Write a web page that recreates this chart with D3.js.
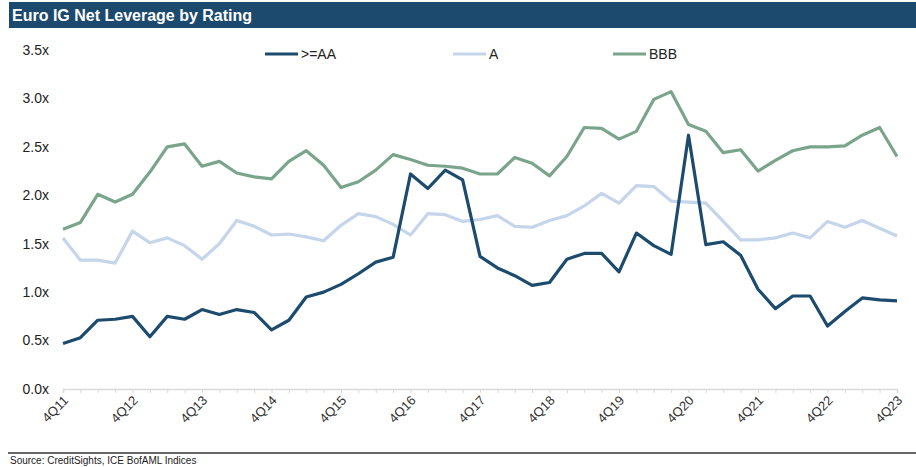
<!DOCTYPE html>
<html lang="en">
<head>
<meta charset="UTF-8">
<title>Euro IG Net Leverage by Rating</title>
<script src="https://d3js.org/d3.v7.min.js"></script>
<style>
  body { margin: 0; background: #fff; }
  svg { display: block; font-family: "Liberation Sans", Arial, sans-serif; }
</style>
</head>
<body>
<script>
// quarters 4Q11 .. 4Q23
const quarters = [];
for (let y = 11; y <= 23; y++) {
  ["1Q", "2Q", "3Q", "4Q"].forEach(q => {
    if (y === 11 && q !== "4Q") return;
    quarters.push(q + y);
  });
}

const aaPlus = [0.47, 0.53, 0.71, 0.72, 0.75, 0.54, 0.75, 0.72, 0.82, 0.77, 0.82, 0.79, 0.61, 0.71, 0.95, 1.00,
  1.08, 1.19, 1.31, 1.36, 2.22, 2.07, 2.26, 2.16, 1.37, 1.25, 1.17, 1.07, 1.10, 1.34, 1.40, 1.40,
  1.21, 1.61, 1.48, 1.39, 2.62, 1.49, 1.52, 1.38, 1.03, 0.83, 0.96, 0.96, 0.65, 0.80, 0.94, 0.92, 0.91];

const ratingA = [1.56, 1.33, 1.33, 1.30, 1.63, 1.51, 1.56, 1.48, 1.34, 1.50, 1.74, 1.68, 1.59, 1.60, 1.57, 1.53,
  1.69, 1.81, 1.78, 1.70, 1.59, 1.81, 1.80, 1.73, 1.75, 1.79, 1.68, 1.67, 1.74, 1.79, 1.89, 2.02,
  1.92, 2.10, 2.09, 1.94, 1.93, 1.92, 1.73, 1.54, 1.54, 1.56, 1.61, 1.56, 1.73, 1.67, 1.74, 1.66, 1.58];

const ratingBBB = [1.65, 1.72, 2.01, 1.93, 2.01, 2.24, 2.50, 2.53, 2.30, 2.35, 2.23, 2.19, 2.17, 2.35, 2.46, 2.31,
  2.08, 2.14, 2.26, 2.42, 2.37, 2.31, 2.30, 2.28, 2.22, 2.22, 2.39, 2.33, 2.20, 2.40, 2.70, 2.69,
  2.58, 2.66, 2.99, 3.07, 2.73, 2.66, 2.44, 2.47, 2.25, 2.36, 2.46, 2.50, 2.50, 2.51, 2.62, 2.70, 2.40];

const yTicks = [0, 0.5, 1, 1.5, 2, 2.5, 3, 3.5];

const series = [
  { name: ">=AA", values: aaPlus, color: "#1d4b6e" },
  { name: "A", values: ratingA, color: "#c5d5ea" },
  { name: "BBB", values: ratingBBB, color: "#7aa58c" }
];

const width = 916, height = 467;
const svg = d3.select("body").append("svg")
  .attr("width", width)
  .attr("height", height);

// title bar
svg.append("rect")
  .attr("x", 9).attr("y", 2)
  .attr("width", width - 9).attr("height", 26)
  .attr("fill", "#1c4a6e");
svg.append("text")
  .attr("x", 12).attr("y", 21)
  .attr("fill", "#fff")
  .attr("font-size", 16).attr("font-weight", "bold")
  .text("Euro IG Net Leverage by Rating");

const x = d3.scaleLinear()
  .domain([0, quarters.length - 1])
  .range([63, 897]);
const y = d3.scaleLinear()
  .domain([0, 3.5])
  .range([389, 50]);

// y labels
svg.append("g")
  .selectAll("text")
  .data(yTicks)
  .join("text")
  .attr("x", 49)
  .attr("y", d => y(d))
  .attr("dy", "0.35em")
  .attr("text-anchor", "end")
  .attr("font-size", 14)
  .attr("fill", "#222")
  .text(d => d.toFixed(1) + "x");

// x axis
const xAxis = d3.axisBottom(x)
  .tickValues(d3.range(quarters.length))
  .tickSize(4)
  .tickFormat("");
const gx = svg.append("g")
  .attr("transform", `translate(0,${y(0)})`)
  .call(xAxis);
gx.select(".domain").attr("stroke", "#d9d9d9").attr("stroke-width", 1.5);
gx.selectAll(".tick line").attr("stroke", "#d9d9d9");

svg.append("g")
  .selectAll("text")
  .data(quarters.map((q, i) => ({ q, i })).filter(d => d.i % 4 === 0))
  .join("text")
  .attr("transform", d => `translate(${x(d.i) + 3},${y(0) + 9}) rotate(-45)`)
  .attr("text-anchor", "end")
  .attr("dy", "0.35em")
  .attr("font-size", 13)
  .attr("fill", "#333")
  .text(d => d.q);

// lines
const line = d3.line()
  .x((d, i) => x(i))
  .y(d => y(d));

// draw A first, then BBB, then >=AA on top
[series[1], series[2], series[0]].forEach(s => {
  svg.append("path")
    .datum(s.values)
    .attr("fill", "none")
    .attr("stroke", s.color)
    .attr("stroke-width", 3.2)
    .attr("stroke-linejoin", "round")
    .attr("d", line);
});

// legend
const legendX = [265, 453, 613];
const leg = svg.append("g");
series.forEach((s, i) => {
  leg.append("line")
    .attr("x1", legendX[i]).attr("x2", legendX[i] + 33)
    .attr("y1", 54).attr("y2", 54)
    .attr("stroke", s.color).attr("stroke-width", 3.2);
  leg.append("text")
    .attr("x", legendX[i] + 36).attr("y", 54)
    .attr("dy", "0.35em")
    .attr("font-size", 14)
    .attr("fill", "#222")
    .text(s.name);
});

// footer
svg.append("line")
  .attr("x1", 8).attr("x2", width)
  .attr("y1", 453).attr("y2", 453)
  .attr("stroke", "#666").attr("stroke-width", 2);
svg.append("text")
  .attr("x", 10).attr("y", 464)
  .attr("font-size", 10)
  .attr("fill", "#222")
  .text("Source: CreditSights, ICE BofAML Indices");
</script>
</body>
</html>
